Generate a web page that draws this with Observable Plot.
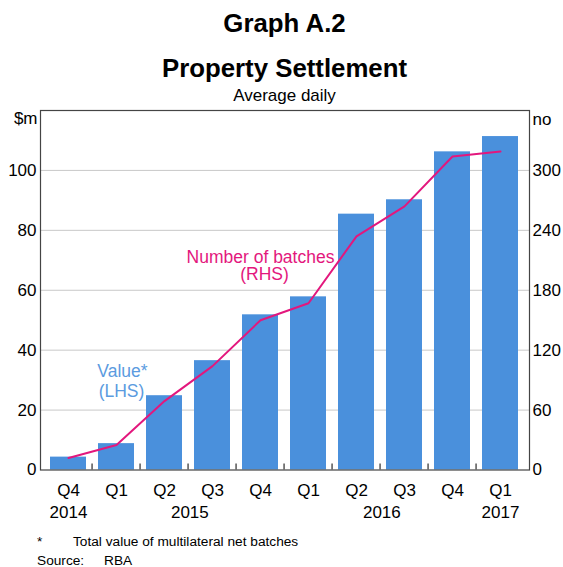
<!DOCTYPE html>
<html>
<head>
<meta charset="utf-8">
<script src="https://cdn.jsdelivr.net/npm/d3@7"></script>
<script src="https://cdn.jsdelivr.net/npm/@observablehq/plot@0.6"></script>
<style>
  html, body { margin: 0; padding: 0; background: #fff; }
  #wrap { position: relative; width: 563px; height: 567px; overflow: hidden; font-family: "Liberation Sans", Arial, sans-serif; color: #000; }
  #wrap svg { position: absolute; left: 0; top: 0; }
  .t { position: absolute; line-height: 1; white-space: nowrap; }
  .title { left: 40px; width: 489px; text-align: center; font-weight: bold; font-size: 25.8px; }
  .sub { left: 40px; width: 489px; text-align: center; font-size: 17px; }
  .note { font-size: 13.7px; }
</style>
</head>
<body>
<div id="wrap">
  <div class="t title" style="top:11.2px">Graph A.2</div>
  <div class="t title" style="top:56.2px">Property Settlement</div>
  <div class="t sub" style="top:86.6px">Average daily</div>
  <div class="t note" style="top:535.4px;left:37px">*</div>
  <div class="t note" style="top:535.4px;left:73px">Total value of multilateral net batches</div>
  <div class="t note" style="top:554.4px;left:37px">Source:</div>
  <div class="t note" style="top:554.4px;left:104px">RBA</div>
</div>
<script>
// ---- data ----
const periods   = ["2014-Q4","2015-Q1","2015-Q2","2015-Q3","2015-Q4","2016-Q1","2016-Q2","2016-Q3","2016-Q4","2017-Q1"];
const quarterLabels = ["Q4","Q1","Q2","Q3","Q4","Q1","Q2","Q3","Q4","Q1"];
const valueLHS   = [4.3, 8.8, 24.8, 36.5, 51.8, 57.8, 85.4, 90.2, 106.2, 111.3]; // $m
const batchesRHS = [12, 25, 69, 104, 150, 167, 234, 264, 314, 319];             // number
const yearLabels = ["2014","2015","2016","2017"];
const yearFirst  = ["2014-Q4","2015-Q1","2016-Q1","2017-Q1"];
const yearLast   = ["2014-Q4","2015-Q4","2016-Q4","2017-Q1"];
const leftTicks  = [0, 20, 40, 60, 80, 100];
const rightTicks = [0, 60, 120, 180, 240, 300];
const gridLHS    = [20, 40, 60, 80, 100];

const rhsPerLhs = 3; // 120 $m <-> 360 no

const W = 563, H = 567;
const mL = 40, mR = 34, mT = 110, mB = 97.5;
const step = (W - mL - mR) / periods.length;

const rows = periods.map((p, i) => ({period: p, q: quarterLabels[i], value: valueLHS[i], batches: batchesRHS[i]}));
const years = yearLabels.map((y, i) => ({
  label: y, anchor: yearFirst[i],
  dx: (periods.indexOf(yearLast[i]) - periods.indexOf(yearFirst[i])) / 2 * step
}));

const pink = "#e3177d", blue = "#4a90dc", blueText = "#5b9be0";
const font = "'Liberation Sans', Arial, sans-serif";

const chart = Plot.plot({
  width: W, height: H,
  marginLeft: mL, marginRight: mR, marginTop: mT, marginBottom: mB,
  style: {fontFamily: font, fontSize: "17px", background: "transparent", color: "#000", overflow: "visible"},
  x: {domain: periods, paddingInner: 0.245, paddingOuter: 0.1225, axis: null},
  y: {domain: [0, 120], axis: null},
  marks: [
    Plot.ruleY(gridLHS, {stroke: "#c8c8c8", strokeWidth: 1}),
    Plot.barY(rows, {x: "period", y: "value", fill: blue}),
    Plot.line(rows, {x: "period", y: d => d.batches / rhsPerLhs, stroke: pink, strokeWidth: 2}),
    Plot.ruleX(periods.slice(1), {x: d => d, y1: 0, y2: 2, dx: -step / 2, stroke: "#000", strokeWidth: 1}),
    Plot.frame({stroke: "#444", strokeWidth: 1.2}),
    Plot.axisY(leftTicks, {anchor: "left", tickSize: 0, tickPadding: 4, fontSize: 17, label: null}),
    Plot.axisY(rightTicks.map(d => d / rhsPerLhs), {anchor: "right", tickSize: 0, tickPadding: 3, fontSize: 17, label: null, tickFormat: d => Math.round(d * rhsPerLhs)}),
    Plot.text(["$m"], {frameAnchor: "top-left", dx: -3, dy: 8, textAnchor: "end", lineAnchor: "middle", fontSize: 17}),
    Plot.text(["no"], {frameAnchor: "top-right", dx: 3, dy: 9, textAnchor: "start", lineAnchor: "middle", fontSize: 17}),
    Plot.text(rows, {x: "period", text: "q", frameAnchor: "bottom", dy: 25.5, lineAnchor: "bottom", fontSize: 17}),
    ...years.map(y => Plot.text([y], {x: "anchor", text: "label", dx: y.dx, frameAnchor: "bottom", dy: 47.5, lineAnchor: "bottom", fontSize: 17})),
    Plot.text(["Number of batches"], {x: ["2015-Q4"], y: [69.2], lineAnchor: "bottom", fill: pink, fontSize: 17.5}),
    Plot.text(["(RHS)"], {x: ["2015-Q4"], y: [63.5], dx: 4, lineAnchor: "bottom", fill: pink, fontSize: 17.5}),
    Plot.text(["Value*"], {x: ["2015-Q1"], y: [31.2], dx: 6, lineAnchor: "bottom", fill: blueText, fontSize: 17.5}),
    Plot.text(["(LHS)"], {x: ["2015-Q1"], y: [24.5], dx: 5, lineAnchor: "bottom", fill: blueText, fontSize: 17.5})
  ]
});
document.getElementById("wrap").prepend(chart);
</script>
</body>
</html>
